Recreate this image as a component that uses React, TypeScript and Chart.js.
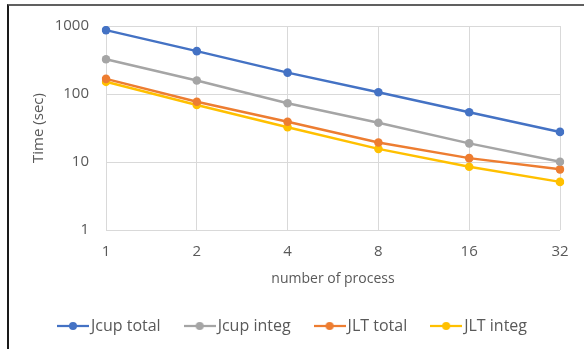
import React, { useEffect, useRef } from "react";
import { Chart, registerables } from "chart.js";

Chart.register(...registerables);

const categories = ["1", "2", "4", "8", "16", "32"];
const seriesNames = ["Jcup total", "Jcup integ", "JLT total", "JLT integ"];
const jcupTotal = [870, 427, 206, 106, 54, 27.7];
const jcupInteg = [324, 158, 73, 37.8, 18.8, 10.1];
const jltTotal = [167, 77, 39, 19.4, 11.4, 7.8];
const jltInteg = [151, 69, 32.4, 15.6, 8.5, 5.1];
const yTicks = [1, 10, 100, 1000];
const colors = ["#4472C4", "#A5A5A5", "#ED7D31", "#FFC000"];

const FONT = "'Open Sans', 'Noto Sans', sans-serif";
const TEXT = "#595959";

function makeMarker(color: string) {
  const c = document.createElement("canvas");
  c.width = 32;
  c.height = 10;
  const ctx = c.getContext("2d")!;
  ctx.strokeStyle = color;
  ctx.lineWidth = 2.25;
  ctx.beginPath();
  ctx.moveTo(0, 5);
  ctx.lineTo(32, 5);
  ctx.stroke();
  ctx.fillStyle = color;
  ctx.beginPath();
  ctx.arc(16, 5, 4, 0, Math.PI * 2);
  ctx.fill();
  return c;
}

export default function App() {
  const ref = useRef<HTMLCanvasElement>(null);
  useEffect(() => {
    if (!ref.current) return;
    const markers = colors.map(makeMarker);
    const values = [jcupTotal, jcupInteg, jltTotal, jltInteg];
    const chart = new Chart(ref.current, {
      type: "line",
      data: {
        labels: categories,
        datasets: seriesNames.map((name, i) => ({
          label: name,
          data: values[i],
          borderColor: colors[i],
          backgroundColor: colors[i],
          pointBackgroundColor: colors[i],
          pointBorderColor: colors[i],
          pointBorderWidth: 0,
          pointRadius: 4.3,
          borderWidth: 2.5,
          tension: 0,
        })),
      },
      options: {
        animation: false,
        responsive: false,
        maintainAspectRatio: false,
        layout: { padding: { left: 30, right: 24, top: 23, bottom: 5 } },
        plugins: {
          tooltip: { enabled: false },
          legend: {
            position: "bottom",
            labels: {
              usePointStyle: true,
              pointStyleWidth: 20,
              padding: 29,
              color: TEXT,
              font: { family: FONT, size: 16 },
              generateLabels: (ch: any) => {
                const items = (Chart as any).defaults.plugins.legend.labels.generateLabels(ch);
                return items.map((it: any, i: number) => ({ ...it, pointStyle: markers[i] }));
              },
            },
          },
        },
        scales: {
          x: {
            type: "category",
            offset: false,
            grid: { color: "#D9D9D9", lineWidth: 1, drawTicks: false, offset: false },
            border: { display: false },
            ticks: { color: TEXT, font: { family: FONT, size: 15 }, padding: 13, maxRotation: 0 },
            title: {
              display: true,
              text: "number of process",
              color: TEXT,
              font: { family: FONT, size: 14 },
              padding: { top: 4, bottom: 2 },
            },
            afterFit: (s: any) => {
              s.height = 59;
            },
          },
          y: {
            type: "logarithmic",
            min: 1,
            max: 1000,
            grid: { color: "#D9D9D9", lineWidth: 1, drawTicks: false },
            border: { display: false },
            afterBuildTicks: (s: any) => {
              s.ticks = yTicks.map((v) => ({ value: v }));
            },
            ticks: {
              color: TEXT,
              font: { family: FONT, size: 15 },
              padding: 17,
              callback: (v: any) => String(v),
            },
            title: {
              display: true,
              text: "Time (sec)",
              color: TEXT,
              font: { family: FONT, size: 15 },
              padding: { top: 0, bottom: 0 },
            },
            afterFit: (s: any) => {
              s.width = 76;
            },
          },
        },
      } as any,
    });
    return () => chart.destroy();
  }, []);

  return (
    <div style={{ position: "fixed", left: 0, top: 0, width: 584, height: 349, overflow: "hidden", background: "#fff" }}>
      <div
        style={{
          position: "absolute",
          left: 7,
          top: 4,
          width: 700,
          height: 500,
          borderTop: "2px solid #606060",
          borderLeft: "2px solid #1a1a1a",
        }}
      />
      <canvas ref={ref} width={584} height={349} style={{ position: "absolute", left: 0, top: 0, width: 584, height: 349 }} />
    </div>
  );
}
